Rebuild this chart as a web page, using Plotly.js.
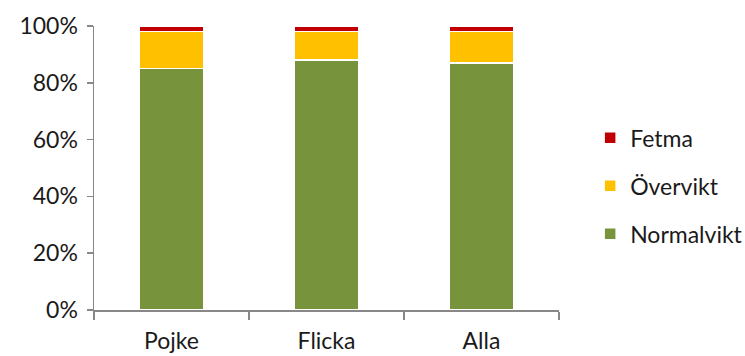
<!DOCTYPE html>
<html><head><meta charset="utf-8">
<script src="https://cdn.plot.ly/plotly-3.0.1.min.js"></script>
<style>html,body{margin:0;padding:0;background:#fff}#c{width:745px;height:356px}</style>
</head><body><div id="c"></div>
<script>
var categories = ["Pojke", "Flicka", "Alla"];
var normalvikt = [85, 88, 87];
var overvikt = [13, 10, 11];
var fetma = [2, 2, 2];
var yTicks = [0, 20, 40, 60, 80, 100];
var yTickLabels = ["0%", "20%", "40%", "60%", "80%", "100%"];

var font = "Lato, 'Open Sans', sans-serif";
function tr(name, y, color, rank) {
  return {type: "bar", name: name, x: categories, y: y, legendgroup: name, legendrank: rank,
    marker: {color: color, line: {color: "#ffffff", width: 1.5}},
    width: 0.42, hoverinfo: "skip"};
}
var data = [
  tr("Normalvikt", normalvikt, "#77933c", 3),
  tr("Övervikt", overvikt, "#ffc000", 2),
  tr("Fetma", fetma, "#c00000", 1)
];
var layout = {
  width: 745, height: 356, barmode: "stack",
  margin: {l: 94, r: 186, t: 26, b: 46, autoexpand: false},
  paper_bgcolor: "#fff", plot_bgcolor: "#fff",
  font: {family: font, size: 23, color: "#1a1a1a"},
  xaxis: {showline: true, linecolor: "#888", linewidth: 1.5, ticks: "outside", tickson: "boundaries",
    ticklen: 8, tickcolor: "#888", tickwidth: 1.5, showgrid: false, zeroline: false,
    ticklabelstandoff: 10, tickfont: {size: 23}},
  yaxis: {range: [0, 100], tickvals: yTicks, ticktext: yTickLabels, showline: true, linecolor: "#888",
    linewidth: 1.5, ticks: "outside", ticklen: 6, tickcolor: "#888", tickwidth: 1.5,
    ticklabelstandoff: 4, showgrid: false, zeroline: false, tickfont: {size: 23}},
  legend: {x: 1.067, y: 0.437, yanchor: "middle", xanchor: "left", traceorder: "grouped",
    tracegroupgap: 15, font: {size: 23}, itemwidth: 30},
  showlegend: true
};
Plotly.newPlot("c", data, layout, {displayModeBar: false, staticPlot: true});
</script></body></html>
